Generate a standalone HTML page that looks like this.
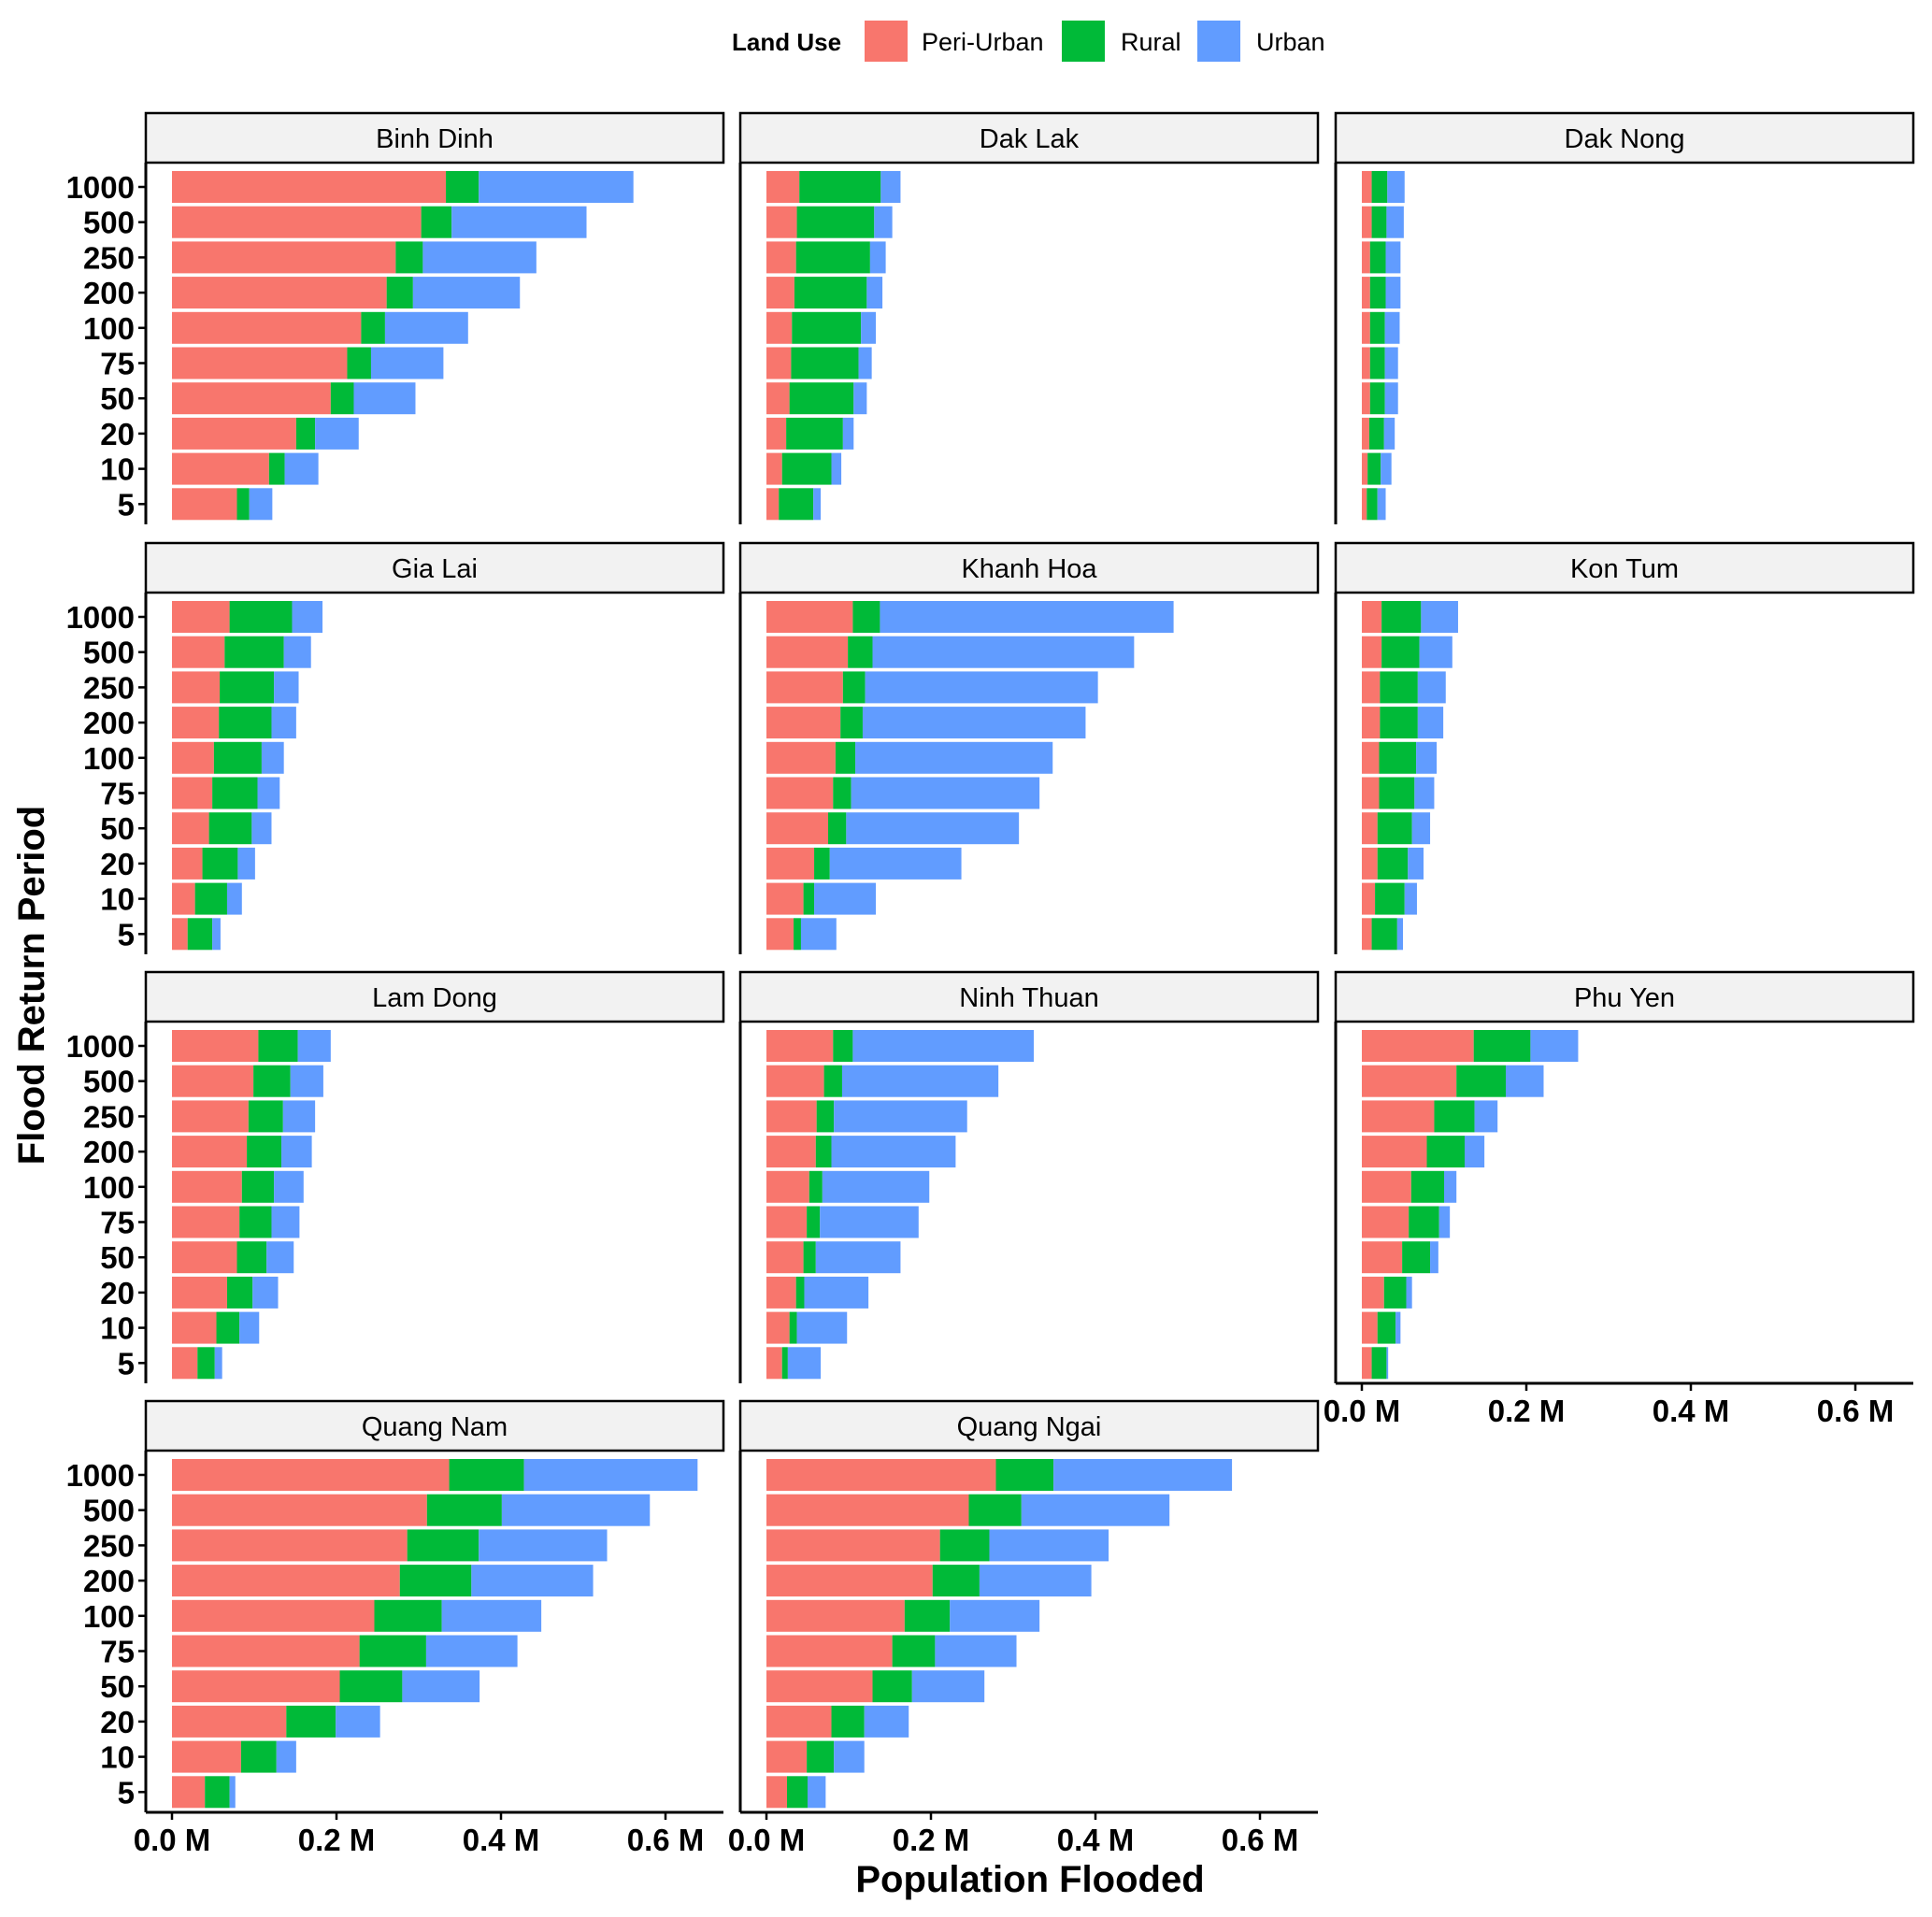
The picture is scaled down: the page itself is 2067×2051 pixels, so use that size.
<!DOCTYPE html>
<html><head><meta charset="utf-8"><style>
html,body{margin:0;padding:0;background:#fff;}
svg{display:block;font-family:"Liberation Sans",sans-serif;}
</style></head><body>
<svg id="chart" width="2067" height="2051" viewBox="0 0 2067 2051" xmlns="http://www.w3.org/2000/svg">
<g>
<text x="783" y="54" font-size="26" font-weight="bold">Land Use</text>
<rect x="925" y="22" width="46" height="44" fill="#F8766D"/>
<text x="986" y="54" font-size="27">Peri-Urban</text>
<rect x="1136" y="22" width="46" height="44" fill="#00BA38"/>
<text x="1199" y="54" font-size="27">Rural</text>
<rect x="1281" y="22" width="46" height="44" fill="#619CFF"/>
<text x="1344" y="54" font-size="27">Urban</text>
</g>
<text x="1102" y="2024" font-size="40" font-weight="bold" text-anchor="middle">Population Flooded</text>
<text transform="translate(47,1054) rotate(-90)" font-size="40" font-weight="bold" text-anchor="middle">Flood Return Period</text>
</svg>
<script>
// values in thousands of people, ordered by return period 1000 -> 5
const periods = ["1000","500","250","200","100","75","50","20","10","5"];
const provinces = ["Binh Dinh","Dak Lak","Dak Nong","Gia Lai","Khanh Hoa","Kon Tum","Lam Dong","Ninh Thuan","Phu Yen","Quang Nam","Quang Ngai"];
const xTicks = [0, 200, 400, 600];
const xTickLabels = ["0.0 M","0.2 M","0.4 M","0.6 M"];
const periUrban = [
[333,303,272,261,230,213,193,151,118,79],
[40,37,36,34,31,30,28,24,19,15],
[12,12,10,10,10,10,10,9,7,6],
[70,64,58,57,51,49,45,37,28,19],
[105,99,93,90,84,81,75,58,45,33],
[24,24,22,22,21,21,19,19,16,12],
[105,99,93,91,85,82,79,67,54,31],
[81,70,61,60,52,49,45,36,28,19],
[136,115,88,79,60,57,49,27,19,12],
[337,310,286,277,246,228,204,139,84,40],
[279,246,211,202,168,153,129,79,49,25]];
const rural = [
[40,37,33,32,29,29,28,23,19,15],
[99,94,90,88,84,82,78,69,60,42],
[19,18,19,19,18,18,18,18,16,13],
[76,72,66,64,58,55,52,43,39,30],
[33,30,27,27,24,22,22,19,13,9],
[48,46,46,46,45,43,42,37,36,31],
[48,45,42,42,39,39,36,31,28,21],
[24,22,21,19,16,16,15,10,9,7],
[69,60,49,46,40,37,34,27,22,18],
[91,91,87,87,82,81,76,60,43,30],
[70,64,60,57,55,52,48,40,33,25]];
const urban = [
[188,164,138,130,101,88,75,53,41,28],
[24,22,19,19,18,16,16,13,12,9],
[21,21,18,18,18,16,16,13,13,10],
[37,33,30,30,27,27,24,21,18,10],
[357,318,283,271,240,229,210,160,75,43],
[45,40,34,31,25,24,22,19,15,7],
[40,40,39,37,36,34,33,31,24,9],
[220,190,162,151,130,120,103,78,61,40],
[58,46,28,24,15,13,10,7,6,2],
[211,180,156,148,121,111,94,54,24,7],
[217,180,145,136,109,99,88,54,37,22]];

const NS="http://www.w3.org/2000/svg";
const svg=document.getElementById('chart');
const colLeft=[156,792,1429], rowTop=[121,581,1040,1499];
const PW=618, stripH=53, axisY=440, pxPerK=0.88;
function mk(tag,attrs,parent){const e=document.createElementNS(NS,tag);for(const k in attrs)e.setAttribute(k,attrs[k]);(parent||svg).appendChild(e);return e;}
function slug(s){return s.toLowerCase().replace(/\s+/g,'-');}
provinces.forEach((p,pi)=>{
  const r=Math.floor(pi/3), c=pi%3;
  const L=colLeft[c], T=rowTop[r];
  const x0=L+28;
  const xs=v=>x0+v*pxPerK;
  const ys=i=>T+79+i*37.7;
  const g=mk('g',{});
  
  
  const st=mk('rect',{x:L,y:T,width:PW,height:stripH,fill:'#f2f2f2',stroke:'#000','stroke-width':2.5},g);
  
  
  const tt=mk('text',{x:L+PW/2,y:T+37,'font-size':29,'text-anchor':'middle'},g);
  tt.textContent=p;
  
  
  periods.forEach((per,i)=>{
    const segs=[[periUrban[pi][i],'#F8766D','peri-urban'],[rural[pi][i],'#00BA38','rural'],[urban[pi][i],'#619CFF','urban']];
    let cum=0;
    segs.forEach(s=>{
      const b=mk('rect',{x:xs(cum),y:ys(i)-17,width:Math.max(0,xs(cum+s[0])-xs(cum)),height:34,fill:s[1]},g);
      
      
      cum+=s[0];
    });
    if(c===0){
      mk('line',{x1:L-8,x2:L,y1:ys(i),y2:ys(i),stroke:'#000','stroke-width':2.5},g);
      const lt=mk('text',{x:L-12,y:ys(i)+12,'font-size':33,'font-weight':'bold','text-anchor':'end'},g);
      lt.textContent=per;
      
      
    }
  });
  const yl=mk('line',{x1:L,x2:L,y1:T+stripH,y2:T+axisY,stroke:'#000','stroke-width':3},g);
  
  
  const showX = (r===3) || (r===2 && c===2);
  if(showX){
    const xl=mk('line',{x1:L,x2:L+PW,y1:T+axisY,y2:T+axisY,stroke:'#000','stroke-width':3},g);
    
    
    xTicks.forEach((v,k)=>{
      mk('line',{x1:xs(v),x2:xs(v),y1:T+axisY,y2:T+axisY+8,stroke:'#000','stroke-width':2.5},g);
      const tl=mk('text',{x:xs(v),y:T+axisY+41,'font-size':33,'font-weight':'bold','text-anchor':'middle'},g);
      tl.textContent=xTickLabels[k];
      
      
    });
  }
});
</script>
</body></html>
